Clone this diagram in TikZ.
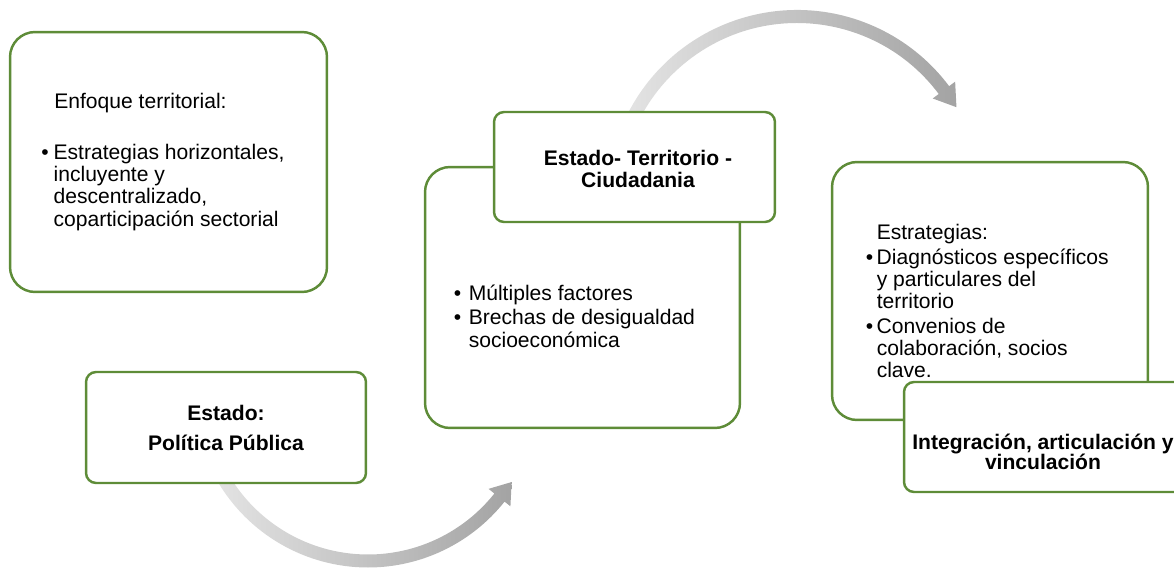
\documentclass[tikz,border=0pt]{standalone}
\usepackage{fontspec}
\setmainfont{Liberation Sans}
\usetikzlibrary{calc}
\definecolor{boxgreen}{RGB}{94,140,56}
\colorlet{arrlight}{gray!22}
\colorlet{arrdark}{gray!72}
\tikzset {
  % large rounded box
  panel/.style = {
    draw = boxgreen,
    fill = white,
    line width = 1.4pt,
    rounded corners = 0.5cm,
    inner sep = 0
  },
  % small box with a title
  tagbox/.style = {
    panel,
    rounded corners = 0.2cm
  },
  body/.style = {
    font = \fontsize{12}{12.5}\selectfont,
    inner sep = 0,
    anchor = base west
  },
  titletext/.style = {
    font = \fontsize{12}{12.5}\selectfont\bfseries,
    inner sep = 0,
    align = center
  },
  % grey curved arrow
  sweep/.style = {
    left color = arrlight,
    right color = arrdark
  }
}

\begin{document}
\begin{tikzpicture}[x=0.02cm, y=0.02cm]
    \useasboundingbox (0,0) rectangle (1174,569);
    \clip (0,0) rectangle (1174,569);

    \coordinate (bc) at (368,176);
    \coordinate (tc) at (797,369);

    \shade[sweep] ($(bc)+(210:174.5)$)
    arc[start angle=210, end angle=321.5, radius=174.5]
    -- ($(bc)+(321.5:182)$)
    -- ($(bc)+(328.2:169)$)
    -- ($(bc)+(321.5:154)$)
    -- ($(bc)+(321.5:161.5)$)
    arc[start angle=321.5, end angle=210, radius=161.5]
    -- cycle;
    \shade[sweep] ($(tc)+(153:190)$)
    arc[start angle=153, end angle=36.8, radius=190]
    -- ($(tc)+(36.8:197.5)$)
    -- ($(tc)+(30.2:184.5)$)
    -- ($(tc)+(36.8:169.5)$)
    -- ($(tc)+(36.8:177)$)
    arc[start angle=36.8, end angle=153, radius=177]
    -- cycle;

    \node[panel, minimum width=6.34cm, minimum height=5.2cm] at (168.5,407) (enfoque) {};
    \node[panel, minimum width=6.3cm, minimum height=5.22cm] at (582.5,271.5) (factores) {};
    \node[tagbox, minimum width=5.62cm, minimum height=2.2cm] at (634.5,402) (ciudadania) {};
    \node[panel, minimum width=6.32cm, minimum height=5.16cm] at (990,278) (estrategias) {};
    \node[tagbox, minimum width=5.62cm, minimum height=2.2cm] at (1044.5,132) (integracion) {};
    \node[tagbox, minimum width=5.6cm, minimum height=2.22cm] at (226,141.5) (estado) {};

    \node[body] at (54,460) (enfoque-head) {Enfoque territorial:};
    \node[body] at (41,409) (enfoque-list) {\begin{tabular}[t]{@{}l@{\hspace{2.8pt}}l@{}}
      \textbullet & Estrategias horizontales,\\
      & incluyente y\\
      & descentralizado,\\
      & coparticipación sectorial
    \end{tabular}};
    \node[body] at (453.5,269) (factores-list) {\begin{tabular}[t]{@{}l@{\hspace{4.3pt}}l@{}}
      \textbullet & Múltiples factores\\[1.7pt]
      \textbullet & Brechas de desigualdad\\
      & socioeconómica
    \end{tabular}};
    \node[body] at (865.5,330) (estrategias-list) {\begin{tabular}[t]{@{}l@{\hspace{2pt}}l@{}}
      & Estrategias:\\[1.7pt]
      \textbullet & Diagnósticos específicos\\
      & y particulares del\\
      & territorio\\[2pt]
      \textbullet & Convenios de\\
      & colaboración, socios\\
      & clave.
    \end{tabular}};

    \node[titletext] at (226,141) (estado-title) {Estado:\\[4.6pt]Política Pública};
    \node[titletext] at (638,400.5) (ciudadania-title) {Estado- Territorio -\\Ciudadania};
    \node[titletext] at (1043,117) (integracion-title) {Integración, articulación y\\[-1.5pt]vinculación};
\end{tikzpicture}
\end{document}
